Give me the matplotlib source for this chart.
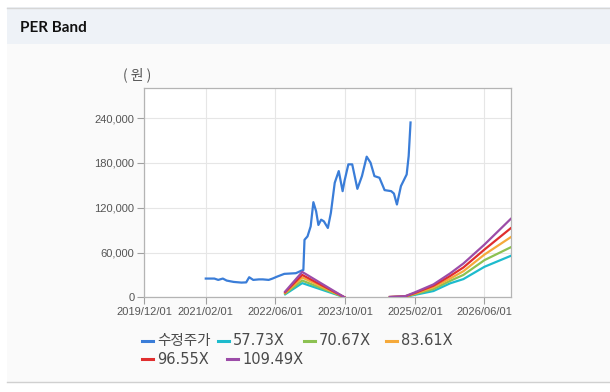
import matplotlib
matplotlib.use("Agg")
import matplotlib.pyplot as plt
from matplotlib.patches import Rectangle
from matplotlib.lines import Line2D
import pandas as pd

# ---------------- data ----------------
price_dates = ["2021-02-02", "2021-04-03", "2021-04-30", "2021-06-01", "2021-06-28",
               "2021-08-16", "2021-10-09", "2021-11-11", "2021-12-02", "2021-12-30",
               "2022-02-08", "2022-03-07", "2022-04-17", "2022-05-14", "2022-06-16",
               "2022-08-04", "2022-10-24", "2022-12-04", "2022-12-15", "2022-12-23",
               "2023-01-13", "2023-02-04", "2023-02-23", "2023-03-14", "2023-03-30",
               "2023-04-18", "2023-05-07", "2023-06-04", "2023-06-25", "2023-07-22",
               "2023-08-19", "2023-09-15", "2023-09-28", "2023-10-25", "2023-11-21",
               "2023-12-27", "2024-01-28", "2024-03-01", "2024-03-28", "2024-04-24",
               "2024-05-29", "2024-07-04", "2024-08-19", "2024-09-07", "2024-09-28",
               "2024-10-26", "2024-12-05", "2024-12-19", "2025-01-01"]
price = [25100, 25100, 23300, 25100, 22400,
         20600, 19700, 20000, 26900, 23300,
         24000, 24000, 23300, 25100, 27800,
         31400, 32300, 35900, 36500, 77000,
         81600, 95000, 127400, 115300, 96900,
         104000, 101800, 92900, 113000, 153400,
         169100, 142200, 155700, 178100, 178100,
         145300, 162400, 188400, 180300, 162400,
         160150, 143600, 142200, 139000, 124300,
         149000, 164600, 189300, 234200]

band_dates = ["2022-08-10", "2022-12-07", "2023-09-28", None,
              "2024-08-10", "2024-11-25", "2025-02-01", "2025-06-10", "2025-10-04",
              "2026-01-05", "2026-06-01", "2026-12-01"]
band_57 = [4000, 19000, 0, None, 250, 750, 3300, 8400, 18700, 24400, 40900, 55500]
band_70 = [5000, 22500, 0, None, 300, 900, 4200, 11000, 22000, 30000, 49800, 67000]
band_83 = [5800, 26500, 0, None, 350, 1100, 5000, 13500, 25000, 35000, 57300, 80500]
band_96 = [6800, 30000, 0, None, 400, 1300, 5800, 15500, 28500, 40000, 64000, 92500]
band_109 = [7700, 34000, 0, None, 500, 1500, 6700, 17300, 32000, 45300, 70700, 105000]

series_labels = ["수정주가", "57.73X", "70.67X", "83.61X", "96.55X", "109.49X"]
series_colors = ["#3A7DD8", "#1DBBCD", "#8CC152", "#F5A93A", "#E02E2E", "#9C4CA8"]

xtick_dates = ["2019-12-01", "2021-02-01", "2022-06-01", "2023-10-01", "2025-02-01", "2026-06-01"]
xtick_labels = ["2019/12/01", "2021/02/01", "2022/06/01", "2023/10/01", "2025/02/01", "2026/06/01"]
ytick_vals = [0, 60000, 120000, 180000, 240000]
ytick_labels = ["0", "60,000", "120,000", "180,000", "240,000"]

# ---------------- figure ----------------
W, H = 610, 392
fig = plt.figure(figsize=(W / 100, H / 100), dpi=100)
fig.patch.set_facecolor("#FFFFFF")

def fx(px):
    return px / W

def fy(py):
    return 1 - py / H

# panel background, header, separator lines
fig.patches.append(Rectangle((fx(7), fy(382)), 1 - fx(7), fy(7.3) - fy(382),
                             transform=fig.transFigure, facecolor="#FAFAFA", edgecolor="none", zorder=-2))
fig.patches.append(Rectangle((fx(7), fy(43.7)), 1 - fx(7), fy(7.3) - fy(43.7),
                             transform=fig.transFigure, facecolor="#EEF2F7", edgecolor="none", zorder=-1))
fig.lines.append(Line2D([fx(7), 1], [fy(7.5), fy(7.5)], transform=fig.transFigure, color="#D6D6D6", lw=1))
fig.lines.append(Line2D([fx(7), 1], [fy(382), fy(382)], transform=fig.transFigure, color="#D0D0D0", lw=1))
fig.text(fx(20), fy(27.5), "PER Band", fontsize=11, fontweight="bold", family="Lato",
         color="#111111", va="center", ha="left")

ax = fig.add_axes([fx(144.3), fy(297.3), fx(510.7) - fx(144.3), fy(88.3) - fy(297.3)])
ax.set_zorder(2)
ax.set_facecolor("#FFFFFF")

pd_price = pd.to_datetime(price_dates)
ax.plot(pd_price, price, color=series_colors[0], lw=1.6, zorder=3, solid_joinstyle="round")

bd = [pd.Timestamp(d) if d is not None else pd.NaT for d in band_dates]
bands = [band_57, band_70, band_83, band_96, band_109]
for vals, col in zip(bands, series_colors[1:]):
    xs, ys = [], []
    segs = []
    for d, v in zip(bd, vals):
        if v is None:
            segs.append((xs, ys))
            xs, ys = [], []
        else:
            xs.append(d)
            ys.append(v)
    segs.append((xs, ys))
    for sx, sy in segs:
        ax.plot(sx, sy, color=col, lw=1.6, zorder=4, solid_joinstyle="round")

ax.set_xlim(pd.Timestamp("2019-12-01"), pd.Timestamp("2026-12-01"))
ax.set_ylim(0, 280000)
ax.set_xticks(pd.to_datetime(xtick_dates))
ax.set_xticklabels(xtick_labels)
ax.set_yticks(ytick_vals)
ax.set_yticklabels(ytick_labels)
ax.tick_params(axis="both", labelsize=8, colors="#A0A0A0", labelcolor="#555555",
               length=5, width=0.8, pad=2)
for lab in ax.get_xticklabels() + ax.get_yticklabels():
    lab.set_family("Liberation Sans")
ax.grid(True, color="#E6E6E6", lw=0.8, zorder=0)
ax.set_axisbelow(True)
for s in ax.spines.values():
    s.set_color("#B4B4B4")
    s.set_linewidth(0.9)

fig.text(fx(123), fy(75), "( 원 )", fontsize=10, color="#555555", va="center", ha="left",
         family=["Noto Sans CJK KR", "DejaVu Sans"])

# legend (manual placement)
legend_pos = [(142, 340.7), (218, 340.7), (304, 340.7), (386, 340.7), (142, 359.3), (227, 359.3)]
for (px, py), lab, col in zip(legend_pos, series_labels, series_colors):
    fig.lines.append(Line2D([fx(px), fx(px + 11)], [fy(py), fy(py)], transform=fig.transFigure,
                            color=col, lw=2.2))
    fig.text(fx(px + 15), fy(py), lab, fontsize=10.5, color="#4A4A4A", va="center", ha="left",
             family=["DejaVu Sans", "Noto Sans CJK KR"])

fig.savefig("out.png", dpi=100)
